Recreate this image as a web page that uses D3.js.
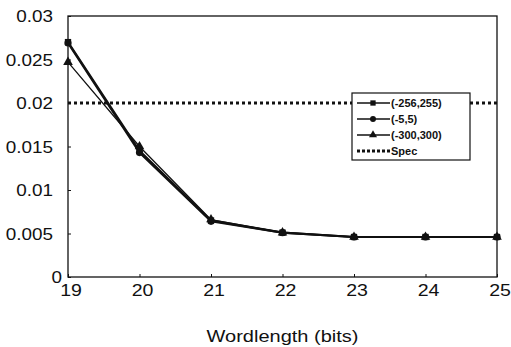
<!DOCTYPE html>
<html>
<head>
<meta charset="utf-8">
<script src="https://cdn.jsdelivr.net/npm/d3@7"></script>
<style>
body { margin: 0; background: #fff; }
text { font-family: "Liberation Sans", Arial, sans-serif; fill: #111; }
</style>
</head>
<body>
<svg width="511" height="347"></svg>
<script>
// wordlength on x, error on y
var wordlengths = [19, 20, 21, 22, 23, 24, 25]
var yTicks = [0, 0.005, 0.01, 0.015, 0.02, 0.025, 0.03]
var yTickLabels = ['0', '0.005', '0.01', '0.015', '0.02', '0.025', '0.03']
var seriesNames = ['(-256,255)', '(-5,5)', '(-300,300)']
var range256 = [0.0270, 0.0145, 0.0065, 0.0051, 0.0046, 0.0046, 0.0046]
var range5 = [0.0269, 0.0143, 0.0064, 0.0051, 0.0046, 0.0046, 0.0046]
var range300 = [0.0247, 0.0150, 0.0066, 0.0051, 0.0046, 0.0046, 0.0046]
var specValue = 0.02

var svg = d3.select('svg')
// plot box edges (note: "top" is taken by window.top)
var plotLeft = 68, plotRight = 497, plotTop = 16, plotBottom = 277

var x = d3.scaleLinear().domain([19, 25]).range([plotLeft, plotRight])
var y = d3.scaleLinear().domain([0, 0.03]).range([plotBottom, plotTop])

// frame
svg.append('rect')
    .attr('x', plotLeft).attr('y', plotTop)
    .attr('width', plotRight - plotLeft).attr('height', plotBottom - plotTop)
    .attr('fill', 'none').attr('stroke', '#111').attr('stroke-width', 1.3)

// y axis ticks + labels
var yAxis = svg.append('g').attr('transform', 'translate(' + plotLeft + ',0)')
    .call(d3.axisRight(y).tickValues(yTicks).tickSize(3).tickFormat(''))
yAxis.select('.domain').remove()
yAxis.selectAll('line').attr('stroke', '#111')
svg.append('g').selectAll('text')
    .data(yTicks)
    .enter().append('text')
    .attr('transform', function (d, i) {
        var tx = i === 0 ? 62 : 53
        return 'translate(' + tx + ',' + (y(d) + 6) + ') scale(1.18,1)'
    })
    .attr('text-anchor', 'end')
    .attr('font-size', 16)
    .text(function (d, i) { return yTickLabels[i] })

// x axis ticks + labels
var xAxis = svg.append('g').attr('transform', 'translate(0,' + plotBottom + ')')
    .call(d3.axisTop(x).tickValues(wordlengths).tickSize(3).tickFormat(''))
xAxis.select('.domain').remove()
xAxis.selectAll('line').attr('stroke', '#111')
svg.append('g').selectAll('text')
    .data(wordlengths)
    .enter().append('text')
    .attr('transform', function (d) { return 'translate(' + (x(d) + 3) + ',296) scale(1.15,1)' })
    .attr('text-anchor', 'middle')
    .attr('font-size', 17)
    .text(function (d) { return d })

svg.append('text')
    .attr('transform', 'translate(' + ((plotLeft + plotRight) / 2) + ',342) scale(1.25,1)')
    .attr('text-anchor', 'middle')
    .attr('font-size', 16)
    .text('Wordlength (bits)')

// spec line
svg.append('line')
    .attr('x1', x(19)).attr('x2', x(25))
    .attr('y1', y(specValue)).attr('y2', y(specValue))
    .attr('stroke', '#111').attr('stroke-width', 3)
    .attr('stroke-dasharray', '3,3')

var line = d3.line()
    .x(function (d, i) { return x(wordlengths[i]) })
    .y(function (d) { return y(d) })

var series = [
    { name: seriesNames[0], values: range256, width: 2.2, marker: d3.symbolSquare },
    { name: seriesNames[1], values: range5, width: 2.2, marker: d3.symbolCircle },
    { name: seriesNames[2], values: range300, width: 1.3, marker: d3.symbolTriangle }
]

series.forEach(function (s) {
    svg.append('path')
        .datum(s.values)
        .attr('d', line)
        .attr('fill', 'none')
        .attr('stroke', '#111')
        .attr('stroke-width', s.width)
    svg.append('g').selectAll('path')
        .data(s.values)
        .enter().append('path')
        .attr('d', d3.symbol().type(s.marker).size(40))
        .attr('transform', function (d, i) { return 'translate(' + x(wordlengths[i]) + ',' + y(d) + ')' })
        .attr('fill', '#111')
})

// legend
var legend = svg.append('g').attr('transform', 'translate(352,93)')
legend.append('rect')
    .attr('width', 118).attr('height', 67)
    .attr('fill', '#fff').attr('stroke', '#111').attr('stroke-width', 1.2)
var rows = series.map(function (s) { return { name: s.name, marker: s.marker, dashed: false } })
rows.push({ name: 'Spec', marker: null, dashed: true })
var row = legend.selectAll('g.row')
    .data(rows)
    .enter().append('g')
    .attr('class', 'row')
    .attr('transform', function (d, i) { return 'translate(0,' + (10 + i * 16) + ')' })
row.append('line')
    .attr('x1', 5).attr('x2', 38)
    .attr('stroke', '#111')
    .attr('stroke-width', function (d) { return d.dashed ? 3 : 1.3 })
    .attr('stroke-dasharray', function (d) { return d.dashed ? '3,2' : null })
row.filter(function (d) { return d.marker })
    .append('path')
    .attr('d', function (d) { return d3.symbol().type(d.marker).size(28)() })
    .attr('transform', 'translate(21,0)')
    .attr('fill', '#111')
row.append('text')
    .attr('x', 39).attr('y', 4)
    .attr('font-size', 11)
    .attr('font-weight', 'bold')
    .text(function (d) { return d.name })
</script>
</body>
</html>
